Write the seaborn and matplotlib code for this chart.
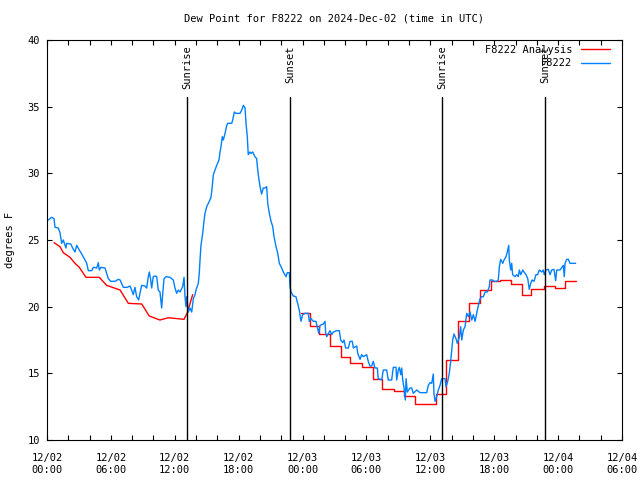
import numpy as np
import pandas as pd
import seaborn as sns
import matplotlib
matplotlib.use("Agg")
import matplotlib.pyplot as plt
from matplotlib.ticker import MultipleLocator

# hours since 12/02 00:00 UTC, values in degrees F
obs_hours = [0.12, 0.44, 0.66, 0.75, 1.06, 1.22, 1.38, 1.53, 1.69, 1.78, 1.85, 2.23, 2.41, 2.63, 2.79,
             3.03, 3.26, 3.57, 3.73, 3.88, 4.20, 4.35, 4.67, 4.82, 4.91, 5.07, 5.45, 5.76, 5.98, 6.39,
             6.70, 6.86, 7.17, 7.54, 7.79, 7.95, 8.10, 8.26, 8.42, 8.61, 8.73, 8.89, 9.20, 9.36, 9.51,
             9.61, 9.74, 9.83, 9.98, 10.14, 10.30, 10.45, 10.61, 10.77, 10.87, 10.99, 11.18, 11.55,
             11.86, 12.02, 12.18, 12.33, 12.49, 12.74, 12.87, 12.96, 13.05, 13.12, 13.27, 13.43, 13.59,
             13.74, 13.90, 13.99, 14.21, 14.30, 14.37, 14.46, 14.62, 14.74, 14.84, 15.00, 15.24, 15.40,
             15.52, 15.62, 15.78, 15.94, 16.15, 16.25, 16.34, 16.46, 16.56, 16.72, 16.88, 16.97, 17.35,
             17.44, 17.59, 17.75, 18.13, 18.29, 18.44, 18.60, 18.69, 18.81, 18.90, 19.06, 19.16, 19.32,
             19.53, 19.69, 19.79, 19.91, 20.07, 20.16, 20.31, 20.47, 20.63, 20.73, 20.88, 21.04, 21.20,
             21.32, 21.51, 21.67, 21.82, 22.04, 22.19, 22.45, 22.57, 22.76, 22.82, 22.92, 23.13, 23.38,
             23.54, 23.69, 23.85, 24.01, 24.23, 24.54, 24.63, 24.79, 25.01, 25.26, 25.38, 25.52, 25.64,
             25.95, 26.11, 26.17, 26.27, 26.58, 26.74, 26.89, 27.21, 27.45, 27.58, 27.77, 27.89, 28.05,
             28.30, 28.46, 28.67, 28.77, 29.09, 29.18, 29.40, 29.55, 29.71, 30.02, 30.17, 30.33, 30.49,
             30.64, 30.80, 31.02, 31.11, 31.43, 31.58, 31.90, 32.05, 32.37, 32.52, 32.78, 32.84, 32.99,
             33.09, 33.22, 33.31, 33.41, 33.53, 33.65, 33.72, 33.84, 34.09, 34.25, 34.40, 34.72, 35.03,
             35.66, 35.81, 35.97, 36.13, 36.28, 36.34, 36.44, 36.60, 36.75, 36.91, 37.07, 37.38, 37.47,
             37.63, 37.78, 37.91, 38.10, 38.22, 38.41, 38.53, 38.72, 38.85, 38.95, 39.10, 39.26, 39.42,
             39.57, 39.73, 39.89, 40.04, 40.20, 40.36, 40.51, 40.67, 40.82, 40.98, 41.14, 41.35, 41.54,
             41.60, 41.86, 41.97, 42.23, 42.38, 42.48, 42.61, 42.80, 42.92, 43.11, 43.23, 43.36, 43.42,
             43.55, 43.64, 43.73, 43.95, 44.11, 44.26, 44.36, 44.49, 44.68, 44.80, 44.99, 45.15, 45.29,
             45.43, 45.55, 45.74, 45.92, 46.08, 46.23, 46.46, 46.61, 46.70, 46.86, 47.08, 47.24, 47.40,
             47.61, 47.77, 47.87, 48.18, 48.49, 48.58, 48.65, 48.81, 48.96, 49.12, 49.65]
obs_dewpt = [26.5, 26.7, 26.6, 25.95, 25.9, 25.55, 24.75, 25.0, 24.6, 24.4, 24.75, 24.7, 24.4, 24.1, 24.6,
             24.25, 23.95, 23.5, 23.25, 22.7, 22.7, 22.95, 22.9, 23.3, 22.75, 22.95, 22.9, 22.1, 21.9, 21.9,
             22.05, 22.0, 21.45, 21.45, 21.55, 21.25, 20.9, 21.45, 20.75, 20.5, 21.0, 21.6, 21.55, 21.4, 22.25,
             22.6, 22.0, 21.4, 22.25, 22.3, 22.25, 21.25, 21.1, 19.9, 21.0, 22.1, 22.25, 22.2,
             22.0, 21.4, 21.0, 21.25, 21.1, 21.5, 22.2, 20.75, 20.0, 20.75, 19.6, 19.9, 19.6,
             20.6, 20.9, 21.25, 21.75, 22.5, 23.5, 24.6, 25.5, 26.4, 27.0, 27.5, 27.9, 28.2,
             29.0, 29.9, 30.25, 30.6, 31.0, 31.6, 32.0, 32.75, 32.5, 33.0, 33.6, 33.75, 33.75,
             34.0, 34.6, 34.5, 34.5, 34.75, 35.1, 34.9, 33.75, 32.75, 31.4, 31.6, 31.5, 31.6,
             31.25, 31.1, 30.25, 29.5, 28.75, 28.45, 28.9, 28.9, 29.0, 27.75, 27.0, 26.4, 26.0,
             25.25, 24.5, 24.0, 23.25, 22.9, 22.6, 22.25, 22.55, 22.55, 21.5, 21.1, 20.8, 20.75,
             20.25, 19.75, 18.9, 19.4, 19.5, 19.5, 18.9, 19.1, 18.9, 18.9, 18.5, 18.0, 18.6,
             18.7, 18.9, 18.0, 17.75, 18.2, 17.9, 18.1, 18.2, 18.2, 17.5, 17.3, 17.5, 16.9,
             16.9, 17.4, 17.4, 16.9, 17.05, 16.5, 16.05, 16.4, 16.25, 16.4, 15.9, 15.55, 15.55,
             15.9, 15.4, 15.4, 14.6, 14.5, 15.25, 15.25, 14.5, 14.5, 15.45, 15.45, 14.5, 15.25,
             15.45, 14.9, 15.4, 14.5, 13.9, 13.0, 14.6, 13.6, 13.9, 13.9, 13.5, 13.75, 13.55,
             13.55, 14.1, 14.3, 14.25, 14.95, 13.5, 12.9, 13.25, 13.75, 14.1, 14.6, 14.6, 14.0,
             14.4, 15.0, 15.9, 17.5, 17.95, 17.6, 17.25, 17.7, 18.5, 17.5, 18.25, 18.5, 19.5,
             19.25, 19.6, 19.0, 19.4, 18.9, 19.5, 20.1, 20.6, 20.75, 20.75, 21.1, 21.1, 21.5,
             22.0, 22.0, 21.9, 21.9, 22.0, 23.0, 23.55, 23.25, 23.5, 23.75, 24.1, 24.6, 23.5,
             22.75, 23.25, 22.4, 22.25, 22.4, 22.25, 22.75, 22.4, 22.75, 22.6, 22.4, 22.1, 21.3,
             21.75, 22.0, 21.9, 22.4, 22.4, 22.75, 22.6, 22.75, 22.4, 22.75, 22.8, 22.4, 22.75,
             22.8, 21.95, 22.75, 22.75, 23.1, 22.25, 23.25, 23.55, 23.55, 23.25, 23.25]

# analysis: first night (smooth), then hourly steps after sunset
ana1_hours = [0.66, 1.22, 1.53, 2.16, 2.63, 3.03, 3.66, 4.91, 5.60, 6.86, 7.64, 8.90, 9.60, 10.60,
              11.40, 12.87, 13.18, 13.68]
ana1_dewpt = [24.8, 24.5, 24.05, 23.7, 23.25, 22.95, 22.2, 22.2, 21.6, 21.25, 20.25, 20.2, 19.3, 19.0,
              19.17, 19.05, 19.55, 20.9]
ana2_hours = [23.9, 24.7, 25.5, 26.6, 27.6, 28.5, 29.55, 30.6, 31.5, 32.6, 33.5, 34.56, 36.5, 37.5,
              38.6, 39.66, 40.66, 41.7, 42.5, 43.6, 44.6, 45.5, 46.7, 47.7, 48.6, 49.65]
ana2_dewpt = [19.5, 18.55, 17.95, 17.05, 16.2, 15.75, 15.45, 14.6, 13.8, 13.7, 13.3, 12.7, 13.45, 16.0,
              18.95, 20.3, 21.25, 21.9, 22.0, 21.7, 20.9, 21.3, 21.55, 21.4, 21.9, 21.9]

sun_hours = [13.15, 22.82, 37.10, 46.77]
sun_labels = ["Sunrise", "Sunset", "Sunrise", "Sunset"]

xtick_hours = [0, 6, 12, 18, 24, 30, 36, 42, 48, 54]
xtick_labels = ["12/02\n00:00", "12/02\n06:00", "12/02\n12:00", "12/02\n18:00", "12/03\n00:00",
                "12/03\n06:00", "12/03\n12:00", "12/03\n18:00", "12/04\n00:00", "12/04\n06:00"]

sns.set_theme(style="white")
fs = 7.5
plt.rcParams['font.family'] = ['DejaVu Sans Mono']
plt.rcParams.update({'font.size': fs, 'xtick.labelsize': fs, 'ytick.labelsize': fs,
                     'axes.labelsize': fs, 'axes.titlesize': fs, 'legend.fontsize': fs,
                     'text.color': 'black', 'axes.labelcolor': 'black'})

obs = pd.DataFrame({"hours": obs_hours, "dewpt": obs_dewpt})
ana1 = pd.DataFrame({"hours": ana1_hours, "dewpt": ana1_dewpt})
ana2 = pd.DataFrame({"hours": ana2_hours, "dewpt": ana2_dewpt})

fig = plt.figure(figsize=(6.4, 4.8), dpi=100)
ax = fig.add_axes([47 / 640, 40 / 480, 575 / 640, 400 / 480])

red = "#ff0000"
blue = "#0080ff"
sns.lineplot(data=ana1, x="hours", y="dewpt", color=red, lw=1, sort=False, estimator=None,
             label="F8222 Analysis", ax=ax)
sns.lineplot(data=ana2, x="hours", y="dewpt", color=red, lw=1, sort=False, estimator=None,
             drawstyle="steps-post", ax=ax)
sns.lineplot(data=obs, x="hours", y="dewpt", color=blue, lw=1, sort=False, estimator=None,
             label="F8222", ax=ax)

for h, lab in zip(sun_hours, sun_labels):
    ax.axvline(h, ymin=0, ymax=0.857, color="black", lw=1)
    ax.text(h, 39.6, lab, rotation=90, ha="center", va="top", fontsize=fs, color="black")

ax.set_xlim(0, 54)
ax.set_ylim(10, 40)
ax.set_xticks(xtick_hours)
ax.set_xticklabels(xtick_labels, linespacing=1.35)
ax.xaxis.set_minor_locator(MultipleLocator(2))
ax.set_yticks([10, 15, 20, 25, 30, 35, 40])
ax.tick_params(which="both", direction="in", length=3.5, width=0.8, top=True, right=True,
               bottom=True, left=True, colors="black", labelcolor="black", pad=5)
ax.tick_params(axis="x", which="both", pad=9)
for s in ax.spines.values():
    s.set_color("black")
    s.set_linewidth(0.8)

ax.set_xlabel("")
ax.set_ylabel("degrees F", labelpad=9, color="black")
ax.set_title("Dew Point for F8222 on 2024-Dec-02 (time in UTC)", pad=13, color="black")

leg = ax.legend(loc="upper right", bbox_to_anchor=(1 - 10 / 575, 1 - 3 / 400), frameon=False,
                markerfirst=False, handlelength=2.8, borderaxespad=0.0, labelspacing=0.3,
                borderpad=0.2)
for t in leg.get_texts():
    t.set_color("black")

fig.savefig("out.png", dpi=100)
